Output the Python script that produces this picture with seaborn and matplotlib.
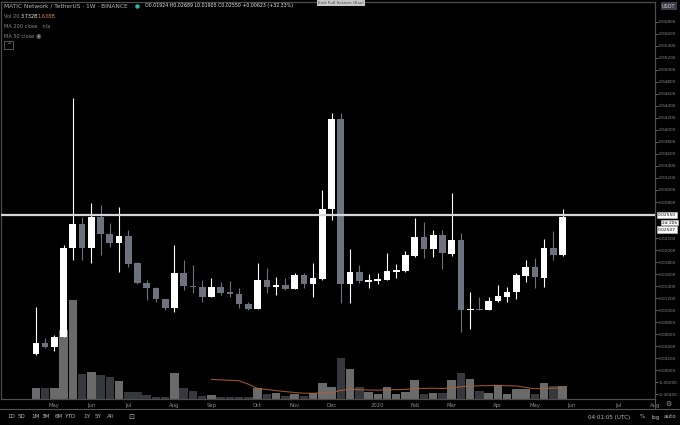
"""
Weekly MATIC/USDT candles (Binance) with a volume overlay, in the dark chart look.
"""

import numpy as np
import pandas as pd
import matplotlib
matplotlib.use("Agg")
import matplotlib.pyplot as plt
from matplotlib.lines import Line2D
import seaborn as sns

# weekly bars, first one starts in the week of 2019-04-22
first_week = "2019-04-22"
opens = [0.0027, 0.0045, 0.0038, 0.0055, 0.0203, 0.0243, 0.0203, 0.0255, 0.0227, 0.0212,
         0.0223, 0.0178, 0.0145, 0.0137, 0.0118, 0.0103, 0.0162, 0.0140, 0.0138, 0.0122,
         0.0138, 0.0130, 0.0127, 0.0110, 0.0102, 0.0150, 0.0138, 0.0142, 0.0135, 0.0158,
         0.0143, 0.0152, 0.0268, 0.0418, 0.0143, 0.0163, 0.0147, 0.0148, 0.0150, 0.0163,
         0.0165, 0.0190, 0.0222, 0.0202, 0.0225, 0.0193, 0.0217, 0.0100, 0.0102, 0.0100,
         0.0115, 0.0122, 0.0130, 0.0157, 0.0172, 0.0153, 0.0203, 0.01924]
highs = [0.0105, 0.0053, 0.0058, 0.0208, 0.0453, 0.0255, 0.0278, 0.0275, 0.0245, 0.0272,
         0.0233, 0.0180, 0.0150, 0.0138, 0.0118, 0.0208, 0.0183, 0.0175, 0.0150, 0.0153,
         0.0147, 0.0148, 0.0137, 0.0113, 0.0178, 0.0170, 0.0155, 0.0153, 0.0162, 0.0162,
         0.0178, 0.0300, 0.0428, 0.0428, 0.0202, 0.0175, 0.0160, 0.0162, 0.0195, 0.0177,
         0.0198, 0.0253, 0.0247, 0.0233, 0.0233, 0.0295, 0.0228, 0.0130, 0.0122, 0.0122,
         0.0142, 0.0138, 0.0162, 0.0183, 0.0187, 0.0218, 0.0232, 0.02689]
lows = [0.0025, 0.0037, 0.0032, 0.0055, 0.0183, 0.0183, 0.0178, 0.0192, 0.0205, 0.0163,
        0.0172, 0.0143, 0.0117, 0.0113, 0.0100, 0.0097, 0.0133, 0.0128, 0.0113, 0.0122,
        0.0125, 0.0122, 0.0103, 0.0100, 0.0102, 0.0128, 0.0125, 0.0133, 0.0135, 0.0137,
        0.0122, 0.0150, 0.0250, 0.0112, 0.0112, 0.0145, 0.0137, 0.0143, 0.0150, 0.0153,
        0.0163, 0.0188, 0.0187, 0.0188, 0.0168, 0.0190, 0.0063, 0.0068, 0.0100, 0.0100,
        0.0113, 0.0113, 0.0118, 0.0147, 0.0137, 0.0138, 0.0183, 0.01905]
closes = [0.0045, 0.0038, 0.0055, 0.0203, 0.0243, 0.0203, 0.0255, 0.0227, 0.0212, 0.0223,
          0.0177, 0.0145, 0.0137, 0.0118, 0.0103, 0.0162, 0.0140, 0.0138, 0.0122, 0.0138,
          0.0128, 0.0127, 0.0110, 0.0102, 0.0150, 0.0138, 0.0142, 0.0135, 0.0158, 0.0143,
          0.0153, 0.0268, 0.0418, 0.0143, 0.0163, 0.0148, 0.0150, 0.0152, 0.0165, 0.0167,
          0.0192, 0.0222, 0.0202, 0.0225, 0.0195, 0.0217, 0.0100, 0.0102, 0.0100, 0.0115,
          0.0123, 0.0130, 0.0158, 0.0172, 0.0155, 0.0203, 0.0192, 0.0255]
# volume in billions
volumes = [3.2, 3.2, 3.2, 19.8, 28.4, 7.2, 7.7, 6.9, 6.3, 5.2,
           2.0, 2.0, 1.1, 0.6, 0.6, 7.5, 3.2, 2.3, 0.9, 1.1,
           0.6, 0.6, 0.6, 0.6, 3.2, 1.4, 1.7, 0.9, 1.4, 0.9,
           1.7, 4.6, 3.4, 11.8, 8.6, 3.4, 2.0, 1.4, 3.4, 1.4,
           2.0, 5.5, 1.4, 1.7, 1.7, 5.5, 7.5, 5.7, 2.3, 1.7,
           4.0, 1.4, 2.9, 2.9, 1.4, 4.6, 3.7, 3.7]

hline_price = 0.0258
month_names = ["Jan", "Feb", "Mar", "Apr", "May", "Jun",
               "Jul", "Aug", "Sep", "Oct", "Nov", "Dec"]
price_ticks = [round(v, 3) for v in np.arange(-0.004, 0.0585, 0.002)
               if round(v, 3) not in (0.024, 0.026)]

W, H = 680, 425


def fx(px):
    return px / W


def fy(py):
    return 1 - py / H


df = pd.DataFrame({"open": opens, "high": highs, "low": lows,
                   "close": closes, "vol": volumes})
df["idx"] = np.arange(len(df))
df["dir"] = np.where(df["close"] >= df["open"], "up", "down")
df["ma"] = df["vol"].rolling(20).mean()

# month labels sit on the first weekly bar of each month
weeks = pd.date_range(first_week, periods=len(df) + 10, freq="7D")
tick_pos, tick_lab = [], []
for i in range(1, len(weeks)):
    if weeks[i].month != weeks[i - 1].month:
        tick_pos.append(i)
        tick_lab.append(str(weeks[i].year) if weeks[i].month == 1 else month_names[weeks[i].month - 1])

sns.set_theme(style="dark", rc={"axes.facecolor": "black", "figure.facecolor": "black"})
plt.rcParams["font.family"] = ["DejaVu Sans"]

fig = plt.figure(figsize=(6.8, 4.25), dpi=100)
vol_ax = fig.add_axes([fx(1), fy(399), fx(654), (399 - 2) / H])
vol_ax.set_facecolor("black")

# volume overlay along the bottom
sns.barplot(data=df, x="idx", y="vol", hue="dir",
            palette={"up": "#6a6a6a", "down": "#37383d"},
            dodge=False, width=0.92, saturation=1, errorbar=None,
            legend=False, ax=vol_ax, linewidth=0)
sns.lineplot(data=df, x="idx", y="ma", color="#b0623a", lw=0.8, alpha=0.85, ax=vol_ax)
vol_ax.set_ylim(0, 114)
vol_ax.set_yticks([])
vol_ax.set_ylabel("")
vol_ax.set_xlabel("")

# candles
ax = vol_ax.twinx()
up = df["dir"] == "up"
body_lo = df[["open", "close"]].min(axis=1)
body_h = (df["close"] - df["open"]).abs().clip(lower=0.00018)
cols = np.where(up, "#ffffff", "#6e717e")
ax.vlines(df["idx"], df["low"], df["high"], colors=cols, lw=0.8, zorder=2)
ax.bar(df["idx"], body_h, bottom=body_lo, width=0.72, color=cols, linewidth=0, zorder=3)
ax.axhline(hline_price, color="#d6d6d6", lw=1.6, zorder=4)

ax.set_ylim(-0.004833, 0.061333)
vol_ax.set_xlim(-3.77, 66.7)
ax.set_yticks(price_ticks)
ax.set_yticklabels([f"{t:.5f}" for t in price_ticks])
ax.tick_params(axis="y", colors="#8c8c8c", labelsize=3.1, length=2, width=0.5, pad=1)
vol_ax.set_xticks(tick_pos)
vol_ax.set_xticklabels(tick_lab)
vol_ax.tick_params(axis="x", colors="#8c8c8c", labelsize=3.8, length=0, pad=3)
for a in (ax, vol_ax):
    a.grid(False)
    for s in a.spines.values():
        s.set_color("#4d4d4d")
        s.set_linewidth(0.8)

# frame lines below the chart
fig.add_artist(Line2D([0, 1], [fy(408.5), fy(408.5)], color="#555555", lw=0.8))
fig.add_artist(Line2D([fx(655), fx(655)], [fy(399), fy(408.5)], color="#555555", lw=0.8))

# header legend
fig.text(fx(4), fy(6), "MATIC Network / TetherUS · 1W · BINANCE", color="#b8b8b8",
         fontsize=4.2, va="center")
fig.add_artist(Line2D([fx(137)], [fy(6)], marker="o", markersize=3.2,
                      color="#2fb8a8", markeredgewidth=0))
fig.text(fx(145), fy(6), "O0.01924 H0.02689 L0.01905 C0.02550 +0.00623 (+32.33%)",
         color="#e8e8e8", fontsize=3.4, va="center")
fig.text(fx(4), fy(16), "Vol 20", color="#8c8c8c", fontsize=3.6, va="center")
fig.text(fx(21), fy(16), "3.732B", color="#e8e8e8", fontsize=3.6, va="center")
fig.text(fx(38), fy(16), "1.638B", color="#d08850", fontsize=3.6, va="center")
fig.text(fx(4), fy(26), "MA 200 close   n/a", color="#8c8c8c", fontsize=3.6, va="center")
fig.text(fx(4), fy(36), "MA 50 close", color="#8c8c8c", fontsize=3.6, va="center")
fig.text(fx(36), fy(36), "◉", color="#8c8c8c", fontsize=4.5, va="center")
fig.text(fx(6), fy(45), "^", color="#b0b0b0", fontsize=4.5, va="center",
         bbox=dict(boxstyle="square,pad=0.25", fc="black", ec="#777777", lw=0.5))
fig.text(fx(318), fy(3), "Exit Full Screen (Esc)", color="#444444", fontsize=3.2, va="center",
         bbox=dict(boxstyle="square,pad=0.3", fc="#c8c8c8", ec="none"))
fig.text(fx(662), fy(6), "USDT", color="#d0d0d0", fontsize=3.6, va="center",
         bbox=dict(boxstyle="square,pad=0.3", fc="#3a3d48", ec="none"))

# price boxes on the scale
fig.text(fx(658), fy(215), "0.02550", color="black", fontsize=3.2, va="center",
         bbox=dict(boxstyle="square,pad=0.25", fc="white", ec="#cccccc", lw=0.4))
fig.text(fx(662), fy(222.5), "2d 20h", color="black", fontsize=3.2, va="center",
         bbox=dict(boxstyle="square,pad=0.2", fc="white", ec="#cccccc", lw=0.4))
fig.text(fx(658), fy(229.5), "0.02507", color="black", fontsize=3.2, va="center",
         bbox=dict(boxstyle="square,pad=0.25", fc="white", ec="#cccccc", lw=0.4))

# bottom toolbar
for lab, px in zip(["1D", "5D", "1M", "3M", "6M", "YTD", "1Y", "5Y", "All"],
                   [7, 18, 31, 42, 55, 65, 83, 95, 107]):
    fig.text(fx(px), fy(417), lab, color="#b8b8b8", fontsize=4.1, va="center")
fig.text(fx(128), fy(417), "⊡", color="#b8b8b8", fontsize=5, va="center")
fig.text(fx(588), fy(417), "04:01:05 (UTC)", color="#b8b8b8", fontsize=4.1, va="center")
fig.text(fx(640), fy(417), "%", color="#b8b8b8", fontsize=4.1, va="center")
fig.text(fx(652), fy(417), "log", color="#b8b8b8", fontsize=4.1, va="center")
fig.text(fx(664), fy(417), "auto", color="#b8b8b8", fontsize=4.1, va="center")
fig.text(fx(665), fy(403.5), "⚙", color="#9a9a9a", fontsize=5, va="center")

fig.savefig("out.png", dpi=100, facecolor="black")
plt.close(fig)
